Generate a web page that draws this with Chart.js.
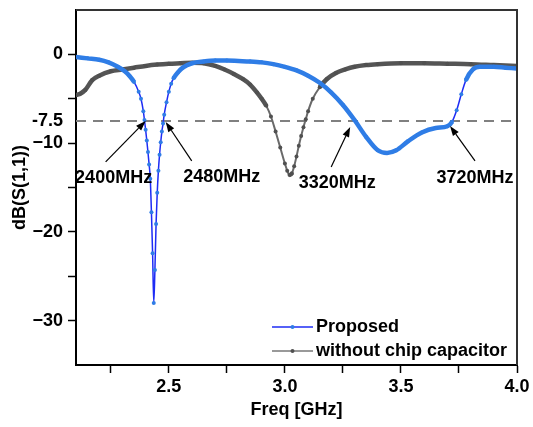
<!DOCTYPE html>
<html>
<head>
<meta charset="utf-8">
<script src="https://cdn.jsdelivr.net/npm/chart.js@4.4.1/dist/chart.umd.min.js"></script>
<style>
  html, body { margin: 0; padding: 0; background: #fff; }
  #wrap { width: 533px; height: 427px; position: relative; }
</style>
</head>
<body>
<div id="wrap"><canvas id="graphic"></canvas></div>
<script>
// S11 of the proposed antenna (GHz, dB)
const freqProposed = [2.10, 2.15, 2.20, 2.24, 2.28, 2.31, 2.33, 2.35, 2.37, 2.38, 2.39, 2.395, 2.40, 2.405, 2.41, 2.415,
  2.42, 2.425, 2.43, 2.435, 2.44, 2.445, 2.45, 2.455, 2.46, 2.465, 2.47, 2.475, 2.48, 2.49, 2.50, 2.51, 2.52, 2.54,
  2.56, 2.60, 2.65, 2.70, 2.75, 2.80, 2.85, 2.90, 2.95, 3.00, 3.05, 3.10, 3.15, 3.20, 3.25, 3.30, 3.35, 3.40, 3.44,
  3.48, 3.53, 3.59, 3.65, 3.70, 3.72, 3.74, 3.76, 3.78, 3.81, 3.84, 3.90, 3.95, 4.00]
const dbProposed = [-0.3, -0.45, -0.6, -0.9, -1.4, -1.9, -2.4, -3.1, -4.2, -5.0, -6.4, -7.4, -8.5, -9.7, -11.0, -12.4,
  -14.0, -17.8, -22.4, -28.0, -24.3, -19.1, -15.6, -13.1, -11.3, -9.9, -8.7, -7.8, -6.8, -5.4, -4.2, -3.3, -2.7, -2.0,
  -1.5, -1.0, -0.8, -0.7, -0.7, -0.75, -0.8, -0.9, -1.1, -1.4, -1.8, -2.4, -3.2, -4.3, -5.7, -7.4, -9.3, -10.8, -11.1,
  -10.8, -9.8, -8.8, -8.3, -8.1, -7.6, -6.3, -4.5, -2.9, -1.7, -1.4, -1.4, -1.5, -1.6]

// S11 without the chip capacitor
const freqNoCap = [2.10, 2.12, 2.14, 2.17, 2.20, 2.25, 2.30, 2.35, 2.40, 2.45, 2.50, 2.55, 2.60, 2.65, 2.70, 2.74,
  2.78, 2.82, 2.85, 2.88, 2.90, 2.92, 2.94, 2.96, 2.98, 3.00, 3.01, 3.02, 3.03, 3.04, 3.05, 3.06, 3.07, 3.08, 3.09,
  3.10, 3.12, 3.15, 3.18, 3.22, 3.26, 3.30, 3.35, 3.40, 3.50, 3.60, 3.70, 3.80, 3.90, 4.00]
const dbNoCap = [-4.6, -4.4, -4.0, -2.9, -2.4, -1.9, -1.7, -1.5, -1.3, -1.15, -1.05, -1.0, -0.95, -1.0, -1.3, -1.7,
  -2.2, -2.8, -3.4, -4.3, -5.0, -5.8, -7.0, -8.7, -10.5, -12.3, -13.1, -13.6, -13.4, -12.6, -11.5, -10.3, -9.2, -8.2, -7.3,
  -6.4, -5.0, -3.7, -2.8, -2.1, -1.7, -1.4, -1.2, -1.1, -1.0, -1.0, -1.05, -1.1, -1.2, -1.3]

const refLevel = -7.5
const markerFreqs = [2.40, 2.48, 3.32, 3.72]
const markerLabels = ['2400MHz', '2480MHz', '3320MHz', '3720MHz']

const xTicks = [2.25, 2.5, 2.75, 3.0, 3.25, 3.5, 3.75, 4.0]
const xTickLabels = ['', '2.5', '', '3.0', '', '3.5', '', '4.0']
const yTicks = [-30, -25, -20, -15, -10, -7.5, -5, 0]
const yTickLabels = ['\u221230', '', '\u221220', '', '\u221210', '-7.5', '', '0']

const toPoints = (xs, ys) => xs.map((x, i) => ({ x, y: ys[i] }))

// arrow / label placement relative to the marker point, in pixels
const markerLayout = [
  { tip: [0, 0], tail: [-40, 41], text: [-32, 57] },
  { tip: [1.5, 1], tail: [26, 39], text: [56, 55] },
  { tip: [-9, 6], tail: [-19, 40], text: [-13, 56] },
  { tip: [-2, 5], tail: [25, 35], text: [25, 52] }
]

const FONT = "'Liberation Sans', Arial, sans-serif"
Chart.defaults.font.family = FONT
Chart.defaults.font.weight = 'bold'
Chart.defaults.font.size = 18
Chart.defaults.color = '#000'

const isSteep = (c) => Math.abs(c.p1.y - c.p0.y) > 1.6 * Math.abs(c.p1.x - c.p0.x)

const markerPlugin = {
  id: 'markers',
  afterDatasetsDraw(chart) {
    const { ctx, scales: { x, y } } = chart
    ctx.save()
    ctx.strokeStyle = '#000'
    ctx.fillStyle = '#000'
    ctx.lineWidth = 1.2
    markerFreqs.forEach((f, i) => {
      const L = markerLayout[i]
      const tx = x.getPixelForValue(f) + L.tip[0]
      const ty = y.getPixelForValue(refLevel) + L.tip[1]
      const sx = tx + L.tail[0]
      const sy = ty + L.tail[1]
      const ang = Math.atan2(ty - sy, tx - sx)
      const head = 10
      const bx = tx - head * Math.cos(ang)
      const by = ty - head * Math.sin(ang)
      ctx.beginPath()
      ctx.moveTo(sx, sy)
      ctx.lineTo(bx, by)
      ctx.stroke()
      ctx.beginPath()
      ctx.moveTo(tx, ty)
      ctx.lineTo(bx + 3.5 * Math.sin(ang), by - 3.5 * Math.cos(ang))
      ctx.lineTo(bx - 3.5 * Math.sin(ang), by + 3.5 * Math.cos(ang))
      ctx.closePath()
      ctx.fill()
      ctx.font = 'bold 18px ' + FONT
      ctx.textAlign = 'center'
      ctx.textBaseline = 'middle'
      ctx.fillText(markerLabels[i], tx + L.text[0], ty + L.text[1])
    })
    ctx.restore()
  },
  afterDraw(chart) {
    const { ctx, chartArea: a } = chart
    ctx.save()
    // frame: top and right
    ctx.strokeStyle = '#333'
    ctx.lineWidth = 2
    ctx.beginPath()
    ctx.moveTo(a.left, a.top)
    ctx.lineTo(a.right, a.top)
    ctx.lineTo(a.right, a.bottom)
    ctx.stroke()
    // legend inside the plot
    const items = chart.data.datasets.filter(d => d.label)
    items.forEach((d, i) => {
      const ly = a.bottom - 38 + i * 24
      const x0 = a.right - 245
      const x1 = a.right - 204
      ctx.strokeStyle = d.legendLine
      ctx.lineWidth = 1.5
      ctx.beginPath()
      ctx.moveTo(x0, ly)
      ctx.lineTo(x1, ly)
      ctx.stroke()
      ctx.fillStyle = d.pointBackgroundColor
      ctx.beginPath()
      ctx.arc((x0 + x1) / 2, ly, 2, 0, Math.PI * 2)
      ctx.fill()
      ctx.fillStyle = '#000'
      ctx.font = 'bold 18px ' + FONT
      ctx.textAlign = 'left'
      ctx.textBaseline = 'middle'
      ctx.fillText(d.label, x1 + 3, ly)
    })
    ctx.restore()
  }
}

const ctx = document.querySelector('#graphic').getContext('2d')
new Chart(ctx, {
  type: 'line',
  data: {
    datasets: [
      {
        label: 'Proposed',
        data: toPoints(freqProposed, dbProposed),
        borderColor: '#1e2cf5',
        legendLine: '#1e2cf5',
        pointBackgroundColor: '#2f7de6',
        pointBorderWidth: 0,
        pointRadius: 2,
        borderWidth: 1.5,
        cubicInterpolationMode: 'monotone',
        segment: {
          borderWidth: c => isSteep(c) ? 1.5 : 4.5,
          borderColor: c => isSteep(c) ? '#1e2cf5' : '#2f7de6'
        }
      },
      {
        label: 'without chip capacitor',
        data: toPoints(freqNoCap, dbNoCap),
        borderColor: '#666',
        legendLine: '#777',
        pointBackgroundColor: '#505050',
        pointBorderWidth: 0,
        pointRadius: 2,
        borderWidth: 2,
        cubicInterpolationMode: 'monotone',
        segment: {
          borderWidth: c => isSteep(c) ? 2 : 4.5,
          borderColor: c => isSteep(c) ? '#6a6a6a' : '#555'
        }
      },
      {
        label: '',
        data: [{ x: 2.1, y: refLevel }, { x: 4.0, y: refLevel }],
        borderColor: '#808080',
        borderWidth: 2,
        borderDash: [10, 7],
        pointRadius: 0
      }
    ]
  },
  options: {
    responsive: true,
    maintainAspectRatio: false,
    animation: false,
    layout: { padding: { top: 10, right: 16, left: 0, bottom: 0 } },
    plugins: { legend: { display: false }, tooltip: { enabled: false } },
    scales: {
      x: {
        type: 'linear',
        min: 2.1,
        max: 4.0,
        afterBuildTicks: s => { s.ticks = xTicks.map(v => ({ value: v })) },
        afterFit: s => { s.height = 62; s.paddingLeft = 0; s.paddingRight = 0 },
        ticks: {
          autoSkip: false,
          maxRotation: 0,
          padding: 3,
          callback: v => xTickLabels[xTicks.indexOf(v)] ?? ''
        },
        grid: { drawOnChartArea: false, tickLength: 8, tickColor: '#000', tickWidth: 1.5 },
        border: { color: '#000', width: 2 },
        title: { display: true, text: 'Freq [GHz]', padding: { top: 0, bottom: 6 } }
      },
      y: {
        min: -35,
        max: 5,
        afterBuildTicks: s => { s.ticks = yTicks.map(v => ({ value: v })) },
        afterFit: s => { s.width = 76; s.paddingTop = 0; s.paddingBottom = 0 },
        ticks: {
          autoSkip: false,
          padding: 5,
          callback: v => yTickLabels[yTicks.indexOf(v)] ?? ''
        },
        grid: {
          drawOnChartArea: false,
          tickLength: 8,
          tickWidth: 1.5,
          tickColor: c => c.tick && c.tick.value === refLevel ? 'rgba(0,0,0,0)' : '#000'
        },
        border: { color: '#000', width: 2 },
        title: { display: true, text: 'dB(S(1,1))', padding: { top: 9, bottom: 0 } }
      }
    }
  },
  plugins: [markerPlugin]
})
</script>
</body>
</html>
